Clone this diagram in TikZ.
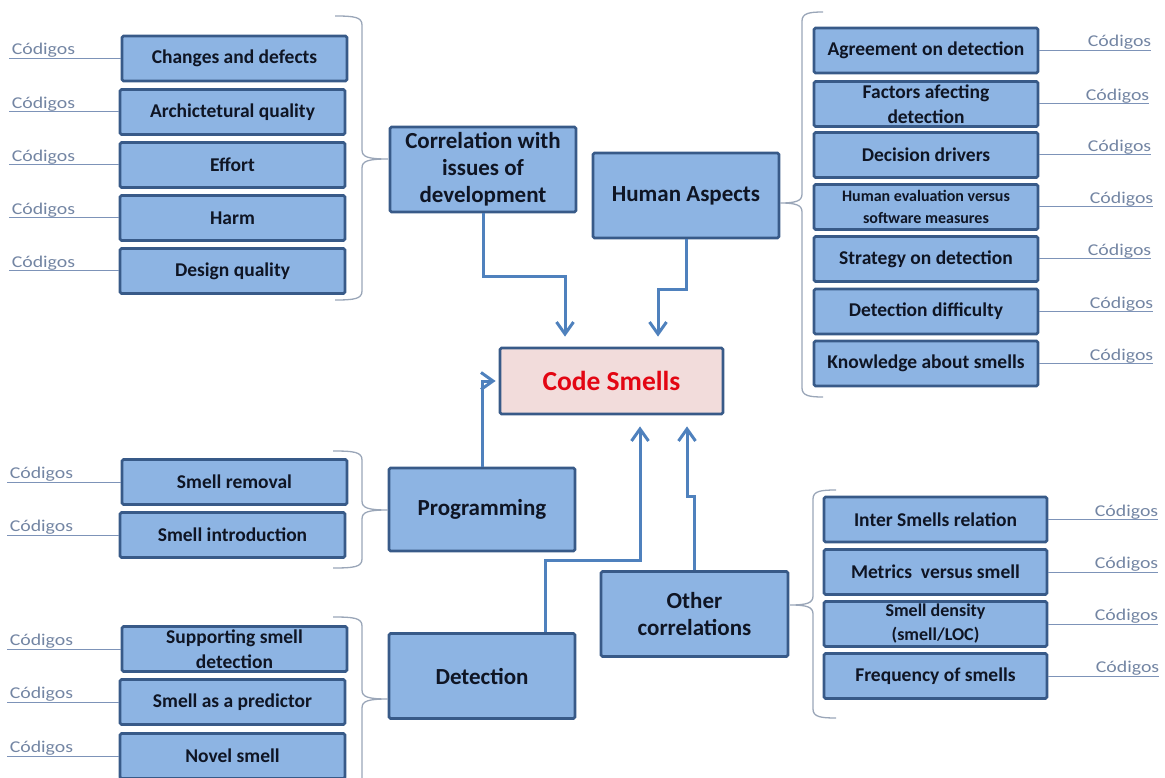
\documentclass[tikz,border=0pt]{standalone}
\usepackage{fontspec}
\setmainfont{Carlito}
\newfontfamily\codfont[FakeStretch=1.2]{Carlito}
\usetikzlibrary{arrows.meta}

\definecolor{boxfill}{HTML}{8DB4E3}
\definecolor{boxline}{HTML}{385A88}
\definecolor{arrowblue}{HTML}{4F81BD}
\definecolor{codcol}{HTML}{7385A3}
\definecolor{codline}{HTML}{7D93B8}
\definecolor{bracecol}{HTML}{9AA6B8}
\definecolor{pinkfill}{HTML}{F2DCDB}
\definecolor{smellred}{HTML}{E30613}
\definecolor{inktext}{HTML}{0F1524}

\tikzset{
  item/.style={draw=boxline, fill=boxfill, line width=2.8pt, rounded corners=1.5pt,
    minimum width=225pt, minimum height=45pt, inner sep=0pt, align=center,
    font=\fontsize{19.5}{25}\selectfont\bfseries, text=inktext},
  topic/.style={item, minimum width=186pt, minimum height=85pt,
    font=\fontsize{23}{27}\selectfont\bfseries},
  core/.style={item, fill=pinkfill, minimum width=223pt, minimum height=66pt,
    font=\fontsize{27.5}{30}\selectfont\bfseries, text=smellred},
  link/.style={draw=arrowblue, line width=3pt,
    -{Straight Barb[length=12pt,width=17pt,line width=3pt]}},
  codigo/.style={draw=codline, line width=1pt},
  codtext/.style={font=\codfont\fontsize{16.5}{18}\selectfont, text=codcol, inner sep=0pt},
  brace/.style={draw=bracecol, line width=1.3pt}
}

% curly brace whose tip points right: arm x, spine x, top y, tip y, bottom y, tip x
\newcommand{\bracetoright}[6]{%
  \draw[brace] (#1,#3) .. controls ({#2-8},#3) and (#2,{#3+1}) .. (#2,{#3+9})
    -- (#2,{#4-9}) .. controls (#2,{#4-2}) and ({#2+6},#4) .. (#6,#4)
    .. controls ({#2+6},#4) and (#2,{#4+2}) .. (#2,{#4+9})
    -- (#2,{#5-9}) .. controls (#2,{#5-1}) and ({#2-8},#5) .. (#1,#5);}
% curly brace whose tip points left
\newcommand{\bracetoleft}[6]{%
  \draw[brace] (#1,#3) .. controls ({#2+8},#3) and (#2,{#3+1}) .. (#2,{#3+9})
    -- (#2,{#4-9}) .. controls (#2,{#4-2}) and ({#2-6},#4) .. (#6,#4)
    .. controls ({#2-6},#4) and (#2,{#4+2}) .. (#2,{#4+9})
    -- (#2,{#5-9}) .. controls (#2,{#5-1}) and ({#2+8},#5) .. (#1,#5);}

\begin{document}
\begin{tikzpicture}[x=1pt, y=-1pt]
\useasboundingbox (0,0) rectangle (1165,778);

% central concept and the five topics
\node[core]  (code)  at (611.5,381)   {Code Smells};
\node[topic] (corr)  at (483,169.5)   {Correlation with\\issues of\\development};
\node[topic] (human) at (686,195.5)   {Human Aspects};
\node[topic, minimum height=83pt] (prog) at (482,509.5) {Programming};
\node[topic] (det)   at (482,676)     {Detection};
\node[topic, minimum width=187pt] (other) at (694.5,614) {Other\\correlations};

% correlation with issues of development
\node[item] (c1) at (234.5,58.5) {Changes and defects};
\node[item] (c2) at (232.5,112)  {Archictetural quality};
\node[item] (c3) at (232.5,165)  {Effort};
\node[item] (c4) at (232.5,218)  {Harm};
\node[item] (c5) at (232.5,271)  {Design quality};

% human aspects
\node[item, minimum width=224pt] (r1) at (926,50.5)  {Agreement on detection};
\node[item, minimum width=224pt] (r2) at (926,104)   {Factors afecting\\detection};
\node[item, minimum width=224pt] (r3) at (926,155)   {Decision drivers};
\node[item, minimum width=224pt, font=\fontsize{16}{22}\selectfont\bfseries] (r4) at (926,207) {Human evaluation versus\\software measures};
\node[item, minimum width=224pt] (r5) at (926,259)   {Strategy on detection};
\node[item, minimum width=224pt] (r6) at (926,311.5) {Detection difficulty};
\node[item, minimum width=224pt] (r7) at (926,363.5) {Knowledge about smells};

% programming
\node[item] (p1) at (234.5,482) {Smell removal};
\node[item] (p2) at (232.5,535) {Smell introduction};

% detection
\node[item] (d1) at (234.5,649) {Supporting smell\\detection};
\node[item] (d2) at (232.5,702) {Smell as a predictor};
\node[item] (d3) at (232.5,756) {Novel smell};

% other correlations
\node[item, minimum width=223pt] (o1) at (935.5,519.5) {Inter Smells relation};
\node[item, minimum width=223pt] (o2) at (935.5,572)   {Metrics\ \ versus smell};
\node[item, minimum width=223pt, font=\fontsize{18}{24}\selectfont\bfseries] (o3) at (935.5,624) {Smell density\\(smell/LOC)};
\node[item, minimum width=223pt] (o4) at (935.5,676)   {Frequency of smells};

% arrows into the central concept
\draw[link, shorten >=10pt] (corr.south) -- ++(0,63) -| ([xshift=-46.5pt]code.north);
\draw[link, shorten >=10pt] (human.south) -- ++(0,50) -| ([xshift=46.5pt]code.north);
\draw[link, shorten >=3pt] (prog.north) |- (code.west);
\draw[link, shorten >=11pt] ([xshift=63pt]det.north) -- ++(0,-72) -| ([xshift=28.5pt]code.south);
\draw[link, shorten >=11pt] (other.north) -- ++(0,-74) -| ([xshift=75.5pt]code.south);

% braces grouping the sub-items
\bracetoright{335}{362}{16}{159}{300}{388}
\bracetoright{333}{362}{451}{510}{568}{388}
\bracetoright{333}{362}{617}{699}{800}{388}
\bracetoleft{823}{802}{12}{203}{397}{780}
\bracetoleft{836}{813}{490}{605}{718}{790}

% code references, left column
\foreach \b/\len in {c1/112, c2/110, c3/110, c4/110, c5/110, p1/114, p2/112, d1/114, d2/112, d3/112}{
  \draw[codigo] (\b.west) -- ++(-\len,0) coordinate (k\b);
  \node[codtext, anchor=base west] (t\b) at ([xshift=3pt,yshift=3.5pt]k\b) {Códigos};
}

% code references, right column
\foreach \b/\len in {r1/112, r2/110, r3/112, r4/114, r5/112, r6/114, r7/114, o1/110, o2/110, o3/110, o4/111}{
  \draw[codigo] (\b.east) -- ++(\len,0) coordinate (k\b);
  \node[codtext, anchor=base east] (t\b) at ([yshift=3.5pt]k\b) {Códigos};
}
\end{tikzpicture}
\end{document}
